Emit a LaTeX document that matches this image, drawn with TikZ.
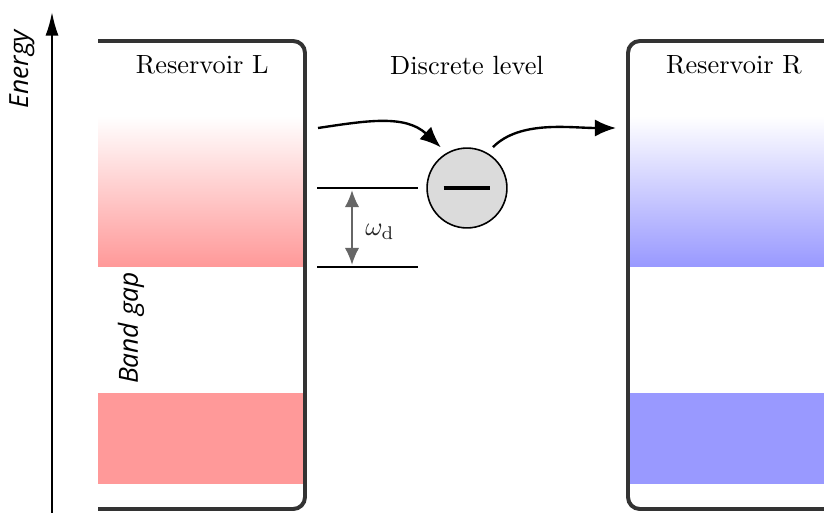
\documentclass[tikz,border=0pt]{standalone}
\usepackage{amsmath}
\usepackage{fontspec}
\newfontfamily\axisfont{Open Sans}
\usetikzlibrary{arrows.meta,positioning}

\tikzset{
  wall/.style={line width=1.5pt,draw=black!80,rounded corners=4.5pt},
  level/.style={line width=0.5pt},
  flow/.style={line width=0.9pt,-{Latex[length=8pt,width=6.5pt]}},
  gap/.style={line width=0.8pt,draw=black!60,{Latex[length=6.5pt,width=5.5pt]}-{Latex[length=6.5pt,width=5.5pt]}},
  dot/.style={circle,draw,line width=0.6pt,fill=black!14,minimum size=30.3pt,inner sep=0pt},
  axislabel/.style={rotate=90,font=\axisfont\itshape\fontsize{10}{12}\selectfont}
}

\begin{document}
\begin{tikzpicture}[x=0.013333cm,y=0.013333cm,node distance=1.64cm,on grid,auto]
\useasboundingbox (0,0) rectangle (824,-512);
\clip (0,0) rectangle (824,-512);

% bands
\shade[top color=white,bottom color=red!40] (98,-116) rectangle (304,-266);
\fill[red!40] (98,-393) rectangle (304,-484);
\shade[top color=white,bottom color=blue!40] (630,-116) rectangle (830,-266);
\fill[blue!40] (630,-393) rectangle (830,-484);

% reservoirs
\draw[wall] (98,-41) -- (305,-41) -- (305,-509) -- (98,-509);
\draw[wall] (840,-41) -- (628,-41) -- (628,-509) -- (840,-509);

% energy axis
\coordinate (e_lo) at (52,-530);
\coordinate (e_hi) at (52,-12);
\draw[line width=0.8pt,-{Latex[length=9pt,width=5pt]}] (e_lo) -- (e_hi);
\node[axislabel] (energy) at (22,-69) {Energy};
\node[axislabel] (bandgap) at (131,-328) {Band gap};

% discrete level
\node[dot] (dot) at (467,-188) {\rule[-0.6pt]{17.8pt}{1.2pt}};
\node (discrete) [above=of dot] {Discrete level};
\node (res_L) [left=3.53cm of discrete] {Reservoir L};
\node (res_R) [right=3.56cm of discrete] {Reservoir R};

% level spacing
\coordinate (up_a) at (317,-188);
\coordinate (up_b) at (418,-188);
\coordinate (lo_a) at (317,-267);
\coordinate (lo_b) at (418,-267);
\draw[level] (up_a) -- (up_b);
\draw[level] (lo_a) -- (lo_b);
\coordinate (g_top) at (352,-190);
\coordinate (g_bot) at (352,-265);
\draw[gap] (g_top) -- (g_bot);
\node[text=black!85] (omega) at (380,-232) {$\omega_{\mathrm{d}}$};

% tunnelling
\coordinate (in_L) at (318,-128);
\coordinate (out_R) at (616,-128);
\draw[flow,shorten >=3pt] (in_L) .. controls (365,-121) and (405,-114) .. (dot.120);
\draw[flow,shorten <=3pt] (dot.60) .. controls (520,-120) and (570,-128) .. (out_R);
\end{tikzpicture}
\end{document}
